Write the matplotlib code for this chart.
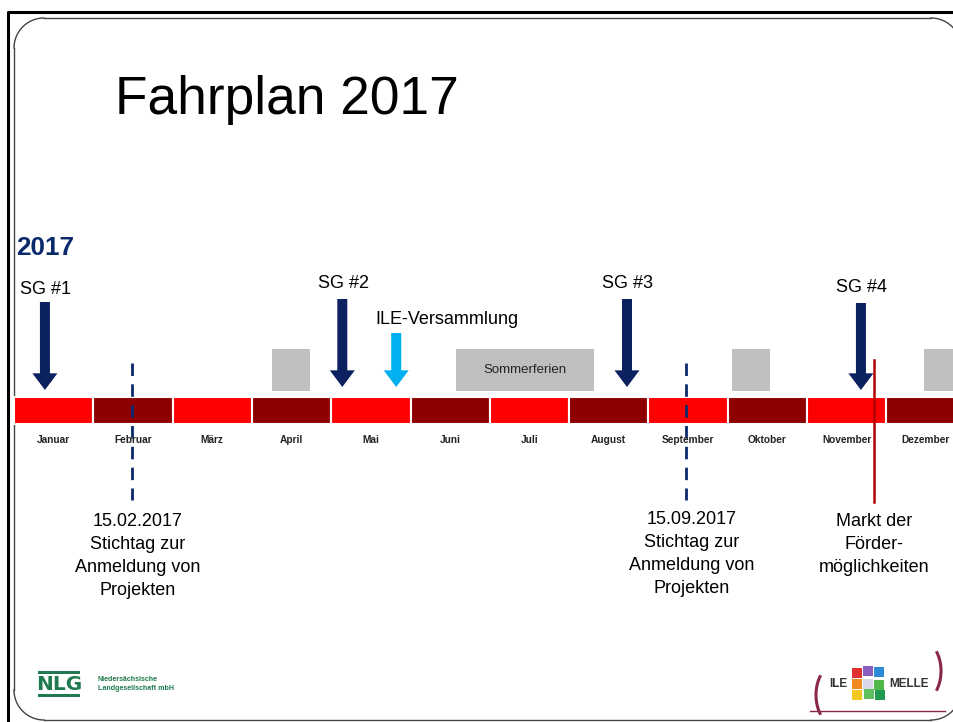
import matplotlib
matplotlib.use('Agg')
import matplotlib.pyplot as plt
import numpy as np
from matplotlib.patches import Rectangle

plt.rcParams['font.family'] = ['Liberation Sans', 'DejaVu Sans']

W, H = 954, 722

# --- data ---
months = ['Januar', 'Februar', 'März', 'April', 'Mai', 'Juni', 'Juli',
          'August', 'September', 'Oktober', 'November', 'Dezember']
month_colors = ['#ff0000', '#8e0000'] * 6

# Steuerungsgruppen (position in month units, 0 = 1. Januar)
sg_labels = ['SG #1', 'SG #2', 'SG #3', 'SG #4']
sg_pos = [0.39, 4.14, 7.73, 10.68]

ile_label = 'ILE-Versammlung'
ile_pos = 4.82

# Ferien (start, end in month units)
holiday_start = [3.25, 5.57, 9.05, 11.47]
holiday_end = [3.73, 7.31, 9.53, 12.2]
holiday_text = ['', 'Sommerferien', '', '']

# Stichtage / Termine
deadline_pos = [1.49, 8.47]
deadline_text = ['15.02.2017\nStichtag zur\nAnmeldung von\nProjekten',
                 '15.09.2017\nStichtag zur\nAnmeldung von\nProjekten']
markt_pos = 10.85
markt_text = 'Markt der\nFörder-\nmöglichkeiten'

# --- layout (pixels) ---
x0_px, month_px = 14, 79.3

fig = plt.figure(figsize=(W / 100, H / 100), dpi=100)

# background axes in pixel units: frame, title, logos
bg = fig.add_axes([0, 0, 1, 1])
bg.set_xlim(0, W)
bg.set_ylim(H, 0)
bg.axis('off')


def arc(cx, cy, rx, ry, a1, a2, **kw):
    t = np.radians(np.linspace(a1, a2, 40))
    bg.plot(cx + rx * np.cos(t), cy + ry * np.sin(t), **kw)


bg.plot([8, 8, W + 5], [H + 5, 12, 12], color='black', lw=2.2, solid_capstyle='butt')

# rounded slide frame (right edge outside the picture)
fl, ft, fr, fb, r = 14, 18, 961, 720, 30
frame = dict(color='#444444', lw=1.0)
bg.plot([fl + r, fr - r], [ft, ft], **frame)
bg.plot([fl + r, fr - r], [fb, fb], **frame)
bg.plot([fl, fl], [ft + r, fb - r], **frame)
arc(fl + r, ft + r, r, r, 180, 270, **frame)
arc(fl + r, fb - r, r, r, 90, 180, **frame)
arc(fr - r, ft + r, r, r, 270, 360, **frame)
arc(fr - r, fb - r, r, r, 0, 90, **frame)

bg.text(115, 100, 'Fahrplan 2017', fontsize=38.3, va='center', ha='left', color='black')
bg.text(16, 248, '2017', fontsize=18.8, fontweight='bold', color='#0b2a6b', va='center')

# NLG logo
nlg_green = '#1f7a4f'
bg.add_patch(Rectangle((38, 671), 42, 3, color=nlg_green, lw=0))
bg.add_patch(Rectangle((38, 694), 42, 3, color=nlg_green, lw=0))
bg.text(59, 685, 'NLG', fontsize=14.5, fontweight='bold', color=nlg_green,
        ha='center', va='center', family='DejaVu Sans')
bg.text(98, 684, 'Niedersächsische\nLandgesellschaft mbH', fontsize=5.1, color=nlg_green,
        va='center', ha='left', linespacing=1.25, fontweight='bold')

# ILE MELLE logo
bg.text(829, 684, 'ILE', fontsize=8.5, fontweight='bold', color='#333333', va='center')
bg.text(889, 684, 'MELLE', fontsize=8.5, fontweight='bold', color='#333333', va='center')
pieces = [(-11, -11, '#e03030'), (0, -13, '#8a5cc0'), (11, -12, '#2a8ad8'),
          (-11, 0, '#f08a20'), (11, 1, '#50b848'), (-11, 11, '#f2c820'),
          (1, 10, '#60c060'), (12, 11, '#1f9a50'), (0, 0, '#d8d8e8')]
for dx, dy, c in pieces:
    bg.add_patch(Rectangle((868 + dx - 5, 684 + dy - 5), 10, 10, color=c, lw=0))
logo_red = '#8a2848'
arc(838, 695, 22, 32, 145, 215, color=logo_red, lw=2.2)
arc(919, 671, 22, 32, -35, 35, color=logo_red, lw=2.2)
bg.plot([810, 945], [711, 711], color=logo_red, lw=1)

# timeline axes: x in months, y in pixels
ax = fig.add_axes([0, 0, 1, 1])
ax.set_xlim(-x0_px / month_px, (W - x0_px) / month_px)
ax.set_ylim(H, 0)
ax.axis('off')
ax.patch.set_alpha(0)

ax.bar(range(12), 27, bottom=397, width=1, align='edge', color=month_colors,
       edgecolor='white', lw=1.5)
for i, m in enumerate(months):
    ax.text(i + 0.5, 440, m, fontsize=7.3, fontweight='bold', color='#222222',
            ha='center', va='center')

for s, e, t in zip(holiday_start, holiday_end, holiday_text):
    ax.bar(s, 42, bottom=349, width=e - s, align='edge', color='#bfbfbf', lw=0)
    if t:
        ax.text((s + e) / 2, 370, t, fontsize=9.5, ha='center', va='center', color='#222222')


def down_arrow(x, top, bottom, color):
    ax.annotate('', xy=(x, bottom), xytext=(x, top),
                arrowprops=dict(arrowstyle='simple,head_length=0.6,head_width=0.9,tail_width=0.36',
                                fc=color, ec='none', shrinkA=0, shrinkB=0, mutation_scale=20))


sg_top = [302, 299, 299, 303]
sg_bottom = [390, 387, 387, 390]
sg_text_y = [289, 284, 283, 288]
for lab, x, t, b, ty in zip(sg_labels, sg_pos, sg_top, sg_bottom, sg_text_y):
    down_arrow(x, t, b, '#0b2160')
    ax.text(x + 0.01, ty, lab, fontsize=13, ha='center', va='center')

down_arrow(ile_pos, 333, 387, '#00b0f0')
ax.text(ile_pos + 0.64, 320, ile_label, fontsize=13, ha='center', va='center')

for x, txt, ty in zip(deadline_pos, deadline_text, [522, 520]):
    ax.plot([x, x], [363, 500], color='#0b2a6b', lw=2, ls=(0, (4.5, 3)))
    for k, line in enumerate(txt.split('\n')):
        ax.text(x + 0.07, ty + k * 22.8, line, fontsize=13, ha='center', va='center')

ax.plot([markt_pos, markt_pos], [360, 502], color='#b00000', lw=1.8)
for k, line in enumerate(markt_text.split('\n')):
    ax.text(markt_pos, 522 + k * 22.8, line, fontsize=13, ha='center', va='center')

fig.savefig('out.png', dpi=100)
